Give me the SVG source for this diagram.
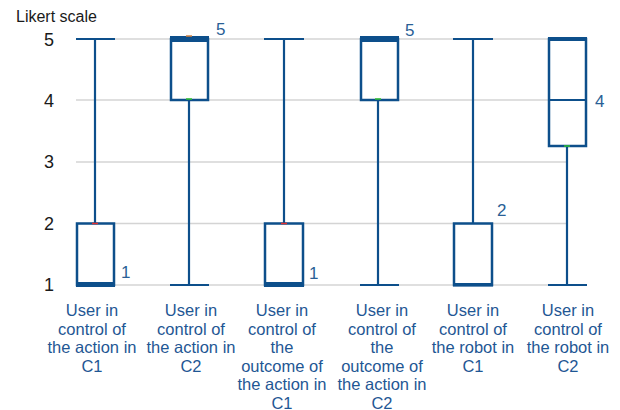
<svg xmlns="http://www.w3.org/2000/svg" width="620" height="410" viewBox="0 0 620 410">
<style>
.grid{stroke:#d4d4d4;stroke-width:1.5;fill:none}
.box{stroke:#0d4f8b;stroke-width:2.5;fill:#fff}
.wh{stroke:#0d4f8b;stroke-width:2.2;fill:none}
.med{fill:#0d4f8b;stroke:none}
.ax{font-family:"Liberation Sans",Arial,sans-serif;font-size:18px;fill:#1a1a1a}
.ttl{font-family:"Liberation Sans",Arial,sans-serif;font-size:16px;fill:#1a1a1a}
.val{font-family:"Liberation Sans",Arial,sans-serif;font-size:17px;fill:#2a5f96}
.cat{font-family:"Liberation Sans",Arial,sans-serif;font-size:16.5px;fill:#1f5794;text-anchor:middle}
</style>
<g id="axis">
<text class="ttl" x="16" y="22">Likert scale</text>
<text class="ax" x="44" y="46">5</text>
<text class="ax" x="44" y="107">4</text>
<text class="ax" x="44" y="168">3</text>
<text class="ax" x="44" y="230">2</text>
<text class="ax" x="44" y="291">1</text>
</g>
<g id="gridlines">
<line class="grid" x1="76" y1="39" x2="567" y2="39"/>
<line class="grid" x1="76" y1="100" x2="567" y2="100"/>
<line class="grid" x1="76" y1="162" x2="567" y2="162"/>
<line class="grid" x1="76" y1="223.5" x2="567" y2="223.5"/>
<line class="grid" x1="76" y1="285" x2="567" y2="285"/>
</g>
<g id="box1">
<line class="wh" x1="95" y1="39" x2="95" y2="223"/>
<line class="wh" x1="76" y1="39" x2="115" y2="39"/>
<rect class="box" x="77" y="223.5" width="37" height="61.5"/>
<rect class="med" x="76" y="282" width="39" height="5"/>
<line x1="92" y1="223.5" x2="98" y2="223.5" stroke="#e03030" stroke-width="1.5"/>
<text class="val" x="121" y="278">1</text>
</g>
<g id="box2">
<line class="wh" x1="189" y1="100" x2="189" y2="285"/>
<line class="wh" x1="170" y1="285" x2="209" y2="285"/>
<rect class="box" x="171" y="39" width="37" height="61"/>
<rect class="med" x="170" y="36" width="39" height="6"/>
<line x1="186" y1="36" x2="192" y2="36" stroke="#d08040" stroke-width="1.5"/>
<line x1="186" y1="99" x2="192" y2="99" stroke="#30c030" stroke-width="1.5"/>
<text class="val" x="216" y="35">5</text>
</g>
<g id="box3">
<line class="wh" x1="284" y1="39" x2="284" y2="223"/>
<line class="wh" x1="264" y1="39" x2="304" y2="39"/>
<rect class="box" x="265" y="223.5" width="38" height="61.5"/>
<rect class="med" x="264" y="282" width="40" height="5"/>
<line x1="281" y1="223.5" x2="287" y2="223.5" stroke="#e03030" stroke-width="1.5"/>
<text class="val" x="309" y="279">1</text>
</g>
<g id="box4">
<line class="wh" x1="378" y1="100" x2="378" y2="285"/>
<line class="wh" x1="360" y1="285" x2="399" y2="285"/>
<rect class="box" x="361" y="39" width="37" height="61"/>
<rect class="med" x="360" y="36" width="39" height="6"/>
<line x1="375" y1="99" x2="381" y2="99" stroke="#30c030" stroke-width="1.5"/>
<text class="val" x="405" y="36">5</text>
</g>
<g id="box5">
<line class="wh" x1="473" y1="39" x2="473" y2="223"/>
<line class="wh" x1="453" y1="39" x2="493" y2="39"/>
<rect class="box" x="454" y="223.5" width="38" height="61.5"/>
<rect class="med" x="453" y="283" width="40" height="3.5"/>
<text class="val" x="497" y="216">2</text>
</g>
<g id="box6">
<line class="wh" x1="567" y1="146" x2="567" y2="285"/>
<line class="wh" x1="548" y1="285" x2="587" y2="285"/>
<rect class="box" x="549" y="39" width="37" height="107"/>
<rect class="med" x="548" y="37" width="39" height="4"/>
<line x1="549" y1="100" x2="586" y2="100" stroke="#0d4f8b" stroke-width="2.2"/>
<line x1="564" y1="146" x2="570" y2="146" stroke="#30c030" stroke-width="1.5"/>
<text class="val" x="595" y="107">4</text>
</g>
<g id="labels">
<text class="cat" x="92" y="316">User in<tspan x="92" dy="18.5">control of</tspan><tspan x="92" dy="18.5">the action in</tspan><tspan x="92" dy="18.5">C1</tspan></text>
<text class="cat" x="191" y="316">User in<tspan x="191" dy="18.5">control of</tspan><tspan x="191" dy="18.5">the action in</tspan><tspan x="191" dy="18.5">C2</tspan></text>
<text class="cat" x="282" y="316">User in<tspan x="282" dy="18.5">control of</tspan><tspan x="282" dy="18.5">the</tspan><tspan x="282" dy="18.5">outcome of</tspan><tspan x="282" dy="18.5">the action in</tspan><tspan x="282" dy="18.5">C1</tspan></text>
<text class="cat" x="382" y="316">User in<tspan x="382" dy="18.5">control of</tspan><tspan x="382" dy="18.5">the</tspan><tspan x="382" dy="18.5">outcome of</tspan><tspan x="382" dy="18.5">the action in</tspan><tspan x="382" dy="18.5">C2</tspan></text>
<text class="cat" x="473" y="316">User in<tspan x="473" dy="18.5">control of</tspan><tspan x="473" dy="18.5">the robot in</tspan><tspan x="473" dy="18.5">C1</tspan></text>
<text class="cat" x="568" y="316">User in<tspan x="568" dy="18.5">control of</tspan><tspan x="568" dy="18.5">the robot in</tspan><tspan x="568" dy="18.5">C2</tspan></text>
</g>
</svg>
